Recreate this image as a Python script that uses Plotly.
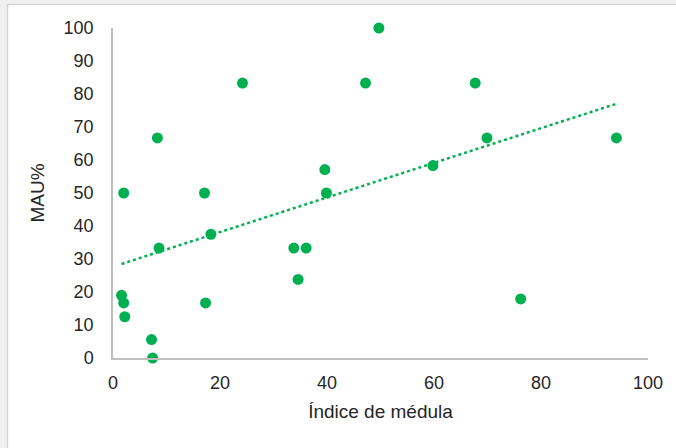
import numpy as np
import plotly.graph_objects as go

# Data
indice_medula = [49.7, 24.2, 47.2, 67.7, 8.3, 69.9, 94.1, 59.8, 39.6, 2.0, 17.1, 39.9,
                 18.3, 8.6, 33.8, 36.1, 34.6, 1.6, 2.0, 17.3, 2.2, 7.2, 7.4, 76.2]
mau_pct = [100, 83.3, 83.3, 83.3, 66.7, 66.7, 66.7, 58.3, 57.1, 50, 50, 50,
           37.5, 33.3, 33.3, 33.3, 23.8, 19.0, 16.7, 16.7, 12.5, 5.6, 0, 17.9]
x_ticks = [0, 20, 40, 60, 80, 100]
y_ticks = [0, 10, 20, 30, 40, 50, 60, 70, 80, 90, 100]

GREEN = "#00B050"
TXT = "#262626"

# Linear trendline (least squares), drawn from min x to max x
slope, intercept = np.polyfit(indice_medula, mau_pct, 1)
tx = [min(indice_medula), max(indice_medula)]
ty = [slope * v + intercept for v in tx]

fig = go.Figure()
fig.add_trace(go.Scatter(
    x=tx, y=ty, mode="lines",
    line=dict(color=GREEN, width=2.5, dash="dot"),
    hoverinfo="skip", showlegend=False,
))
fig.add_trace(go.Scatter(
    x=indice_medula, y=mau_pct, mode="markers",
    marker=dict(color=GREEN, size=11, line=dict(width=0)),
    cliponaxis=False, showlegend=False,
))

# Outer frame: gray page band on left/top, white chart area with light border
fig.add_shape(type="rect", xref="paper", yref="paper",
              x0=(7.5 - 113) / 535, x1=(700 - 113) / 535,
              y0=(358 - 470) / 330, y1=(358 - 4.5) / 330,
              fillcolor="white", line=dict(color="#d4d4d4", width=1.5), layer="below")

fig.update_layout(
    width=676, height=448,
    margin=dict(l=113, r=28, t=28, b=90),
    paper_bgcolor="#f0f0f0", plot_bgcolor="rgba(0,0,0,0)",
    font=dict(family="Liberation Sans, Arial, sans-serif", size=18, color=TXT),
    xaxis=dict(
        range=[0, 100], tickvals=x_ticks, ticktext=[str(v) for v in x_ticks],
        showgrid=False, zeroline=False, showline=True, linecolor="#bfbfbf", linewidth=1.5,
        ticks="", ticklabelstandoff=8,
        title=dict(text="Índice de médula", font=dict(size=19, color=TXT), standoff=12),
    ),
    yaxis=dict(
        range=[0, 100], tickvals=y_ticks, ticktext=[str(v) for v in y_ticks],
        showgrid=False, zeroline=False, showline=True, linecolor="#bfbfbf", linewidth=1.5,
        ticks="", ticklabelstandoff=14,
        title=dict(text="MAU%", font=dict(size=19, color=TXT), standoff=14),
    ),
)

fig.write_html("out.html",
               config={"displayModeBar": False},
               post_script="document.body.style.margin='0';document.body.style.overflow='hidden';")
